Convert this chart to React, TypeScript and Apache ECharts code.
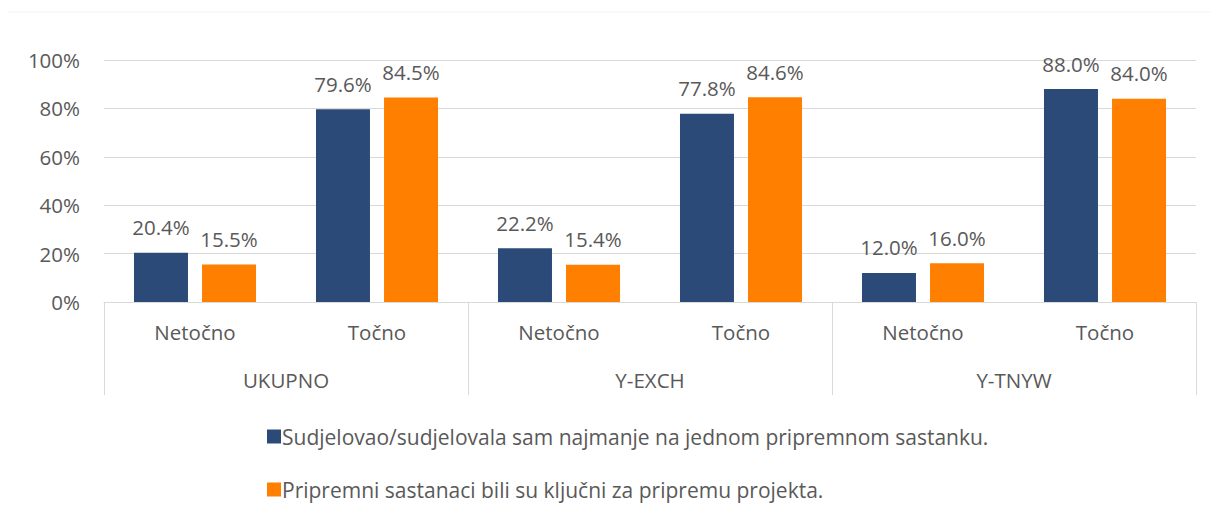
import React, { useEffect, useRef } from "react";
import * as echarts from "echarts";

const categories = ["Netočno", "Točno", "Netočno", "Točno", "Netočno", "Točno"];
const groups = ["UKUPNO", "Y-EXCH", "Y-TNYW"];
const seriesNames = [
  "Sudjelovao/sudjelovala sam najmanje na jednom pripremnom sastanku.",
  "Pripremni sastanaci bili su ključni za pripremu projekta.",
];
const attended = [20.4, 79.6, 22.2, 77.8, 12.0, 88.0];
const keyMeetings = [15.5, 84.5, 15.4, 84.6, 16.0, 84.0];
const yTicks = [0, 20, 40, 60, 80, 100];

const FONT = "'Open Sans', 'Liberation Sans', sans-serif";
const TXT = "#595959";
const FS = 20.5;

export default function App() {
  const ref = useRef<HTMLDivElement>(null);
  useEffect(() => {
    if (!ref.current) return;
    const chart = echarts.init(ref.current, undefined, { renderer: "svg" });
    chart.setOption({
      animation: false,
      backgroundColor: "#ffffff",
      textStyle: { fontFamily: FONT },
      graphic: [
        {
          type: "rect",
          shape: { x: 5, y: 12, width: 1230, height: 520 },
          style: { fill: "none", stroke: "#f2f2f2", lineWidth: 1 },
          silent: true,
        },
      ],
      grid: { left: 104, right: 23, top: 60, bottom: 215 },
      legend: {
        orient: "vertical",
        left: 262,
        top: 421,
        itemWidth: 14,
        itemHeight: 14,
        itemGap: 32,
        icon: "rect",
        textStyle: { color: TXT, fontSize: 21, fontFamily: FONT, padding: [0, 0, 0, -4] },
        data: seriesNames,
      },
      xAxis: [
        {
          type: "category",
          data: categories,
          position: "bottom",
          axisLine: { show: true, lineStyle: { color: "#d9d9d9", width: 1 } },
          axisTick: { show: false },
          axisLabel: { color: TXT, fontSize: FS, margin: 19, fontFamily: FONT },
        },
        {
          type: "category",
          data: groups,
          position: "bottom",
          axisLine: { show: false },
          axisTick: { show: true, length: 93, lineStyle: { color: "#d9d9d9", width: 1 } },
          axisLabel: { color: TXT, fontSize: FS, margin: 67, fontFamily: FONT },
        },
      ],
      yAxis: {
        type: "value",
        min: yTicks[0],
        max: yTicks[yTicks.length - 1],
        interval: 20,
        axisLine: { show: false },
        axisTick: { show: false },
        splitLine: { lineStyle: { color: "#d9d9d9", width: 1 } },
        axisLabel: { color: TXT, fontSize: FS, margin: 24, fontFamily: FONT, formatter: "{value}%" },
      },
      series: [
        {
          name: seriesNames[0],
          type: "bar",
          data: attended,
          barWidth: 54,
          barGap: "26%",
          itemStyle: { color: "#2b4a77" },
          label: {
            show: true,
            position: "top",
            distance: 15,
            color: TXT,
            fontSize: FS,
            fontFamily: FONT,
            formatter: (p: any) => p.value.toFixed(1) + "%",
          },
        },
        {
          name: seriesNames[1],
          type: "bar",
          data: keyMeetings,
          barWidth: 54,
          barGap: "26%",
          itemStyle: { color: "#ff7f00" },
          label: {
            show: true,
            position: "top",
            distance: 15,
            color: TXT,
            fontSize: FS,
            fontFamily: FONT,
            formatter: (p: any) => p.value.toFixed(1) + "%",
          },
        },
      ],
    });
    return () => chart.dispose();
  }, []);
  return <div ref={ref} style={{ width: 1219, height: 517, margin: -8 }} />;
}
